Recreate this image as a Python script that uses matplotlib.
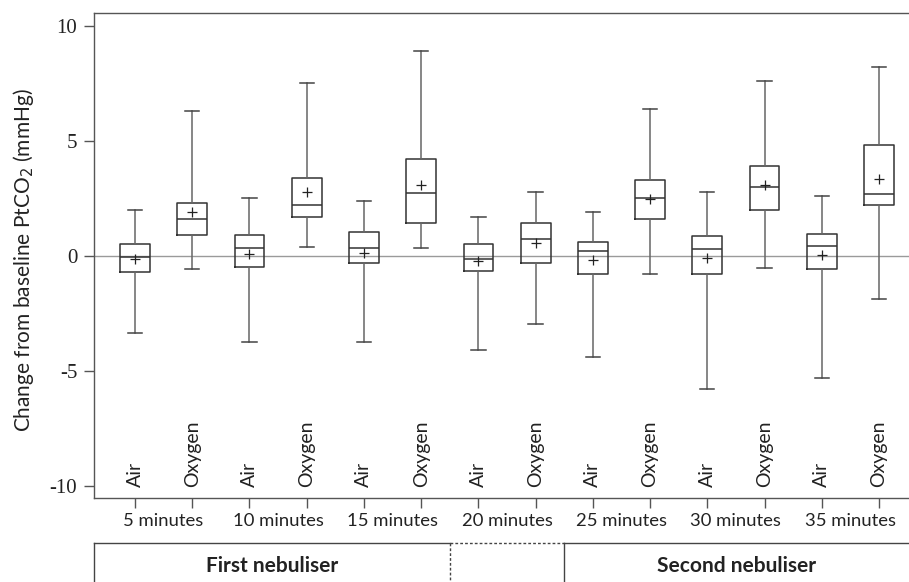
import matplotlib
matplotlib.use("Agg")
import matplotlib.pyplot as plt
import matplotlib.transforms as mtransforms
from matplotlib.lines import Line2D

# ---- data ----
timepoints = ["5 minutes", "10 minutes", "15 minutes", "20 minutes",
              "25 minutes", "30 minutes", "35 minutes"]
gas_labels = ["Air", "Oxygen"] * 7
whisker_low = [-3.36, -0.58, -3.75, 0.41, -3.75, 0.33, -4.07,
               -2.96, -4.38, -0.77, -5.78, -0.51, -5.30, -1.87]
q1 = [-0.68, 0.90, -0.49, 1.70, -0.29, 1.43, -0.64,
      -0.29, -0.77, 1.61, -0.77, 2.00, -0.55, 2.23]
median = [-0.06, 1.61, 0.33, 2.22, 0.33, 2.72, -0.14,
          0.73, 0.20, 2.54, 0.29, 3.01, 0.42, 2.71]
q3 = [0.51, 2.32, 0.90, 3.41, 1.03, 4.20, 0.51,
      1.43, 0.60, 3.32, 0.86, 3.90, 0.94, 4.81]
whisker_high = [2.00, 6.32, 2.54, 7.51, 2.39, 8.90, 1.70,
                2.78, 1.91, 6.41, 2.78, 7.59, 2.61, 8.20]
mean = [-0.14, 1.91, 0.07, 2.78, 0.13, 3.10, -0.23,
        0.58, -0.19, 2.48, -0.07, 3.09, 0.04, 3.36]
phases = ["First nebuliser", "", "Second nebuliser"]
phase_bounds = [6.5, 8.5]  # boundaries between phases (box positions)
yticks = [-10, -5, 0, 5, 10]

SANS = ["Lato", "DejaVu Sans"]
SERIF = ["Liberation Serif", "DejaVu Serif"]

fig = plt.figure(figsize=(9.09, 5.82), dpi=100)
ax = fig.add_axes([94 / 909, 1 - 498 / 582, 1 - 94 / 909, (498 - 13) / 582])

n = len(median)
positions = list(range(1, n + 1))
stats = []
for i in range(n):
    stats.append(dict(whislo=whisker_low[i], q1=q1[i], med=median[i], q3=q3[i],
                      whishi=whisker_high[i], mean=mean[i], fliers=[]))

ax.axhline(0, color="#9a9a9a", lw=1.0, zorder=0)

edge = "#333333"
ax.bxp(stats, positions=positions, widths=0.52, showmeans=True, showfliers=False,
       boxprops=dict(color=edge, lw=1.1),
       medianprops=dict(color=edge, lw=1.1),
       whiskerprops=dict(color="#666666", lw=1.1),
       capprops=dict(color="#444444", lw=1.1),
       capwidths=0.25,
       meanprops=dict(marker="+", markeredgecolor="#222222", markersize=7, markeredgewidth=0.9))

ax.set_xlim(0.2836, 14.524)
ax.set_ylim(-10.52, 10.565)

# spines
for s in ["left", "top", "bottom"]:
    ax.spines[s].set_color("#555555")
    ax.spines[s].set_linewidth(1.0)
ax.spines["right"].set_visible(False)

# y ticks
ax.set_yticks(yticks)
ax.set_yticklabels([str(v) for v in yticks], fontfamily=SERIF, fontsize=15, color="#222222")
ax.tick_params(axis="y", length=7, width=1, color="#555555", pad=5)

# x ticks: ticks at each box, labels at pair centres
ax.set_xticks(positions)
ax.set_xticklabels([])
ax.tick_params(axis="x", which="major", length=7, width=1, color="#555555")
ax.set_xticks([2 * k + 1.5 for k in range(len(timepoints))], minor=True)
ax.set_xticklabels(timepoints, minor=True, fontfamily=SANS, fontsize=13.3, color="#222222")
ax.tick_params(axis="x", which="minor", length=0, pad=11)

# Air / Oxygen labels inside the axes
for p, lab in zip(positions, gas_labels):
    ax.text(p, -10.04, lab, rotation=90, ha="center", va="bottom",
            fontfamily=SANS, fontsize=14, color="#222222")

ax.set_ylabel("Change from baseline PtCO$_2$ (mmHg)", fontfamily=SANS,
              fontsize=15, color="#222222")
ax.yaxis.set_label_coords(-0.071, 0.49)

# phase boxes under the axis
trans = mtransforms.blended_transform_factory(ax.transData, fig.transFigure)
x0, x1 = ax.get_xlim()
ytop = 1 - 543 / 582
ybot = -0.05
lc = "#444444"
b1, b2 = phase_bounds
for xa, xb, ls in [(x0, b1, "-"), (b1, b2, (0, (2, 1.5))), (b2, x1, "-")]:
    fig.add_artist(Line2D([xa, xb], [ytop, ytop], transform=trans, color=lc, lw=1.0,
                          linestyle=ls, clip_on=False))
for xv, ls in [(x0, "-"), (b1, (0, (2, 1.5))), (b2, "-")]:
    fig.add_artist(Line2D([xv, xv], [ytop, ybot], transform=trans, color=lc, lw=1.0,
                          linestyle=ls, clip_on=False))
centers = [(x0 + b1) / 2, (b1 + b2) / 2, (b2 + x1) / 2]
for c, name in zip(centers, phases):
    if name:
        fig.text(c, 1 - 566 / 582, name, transform=trans, ha="center", va="center",
                 fontfamily=SANS, fontweight="bold", fontsize=15, color="#222222")

fig.savefig("out.png", dpi=100)
